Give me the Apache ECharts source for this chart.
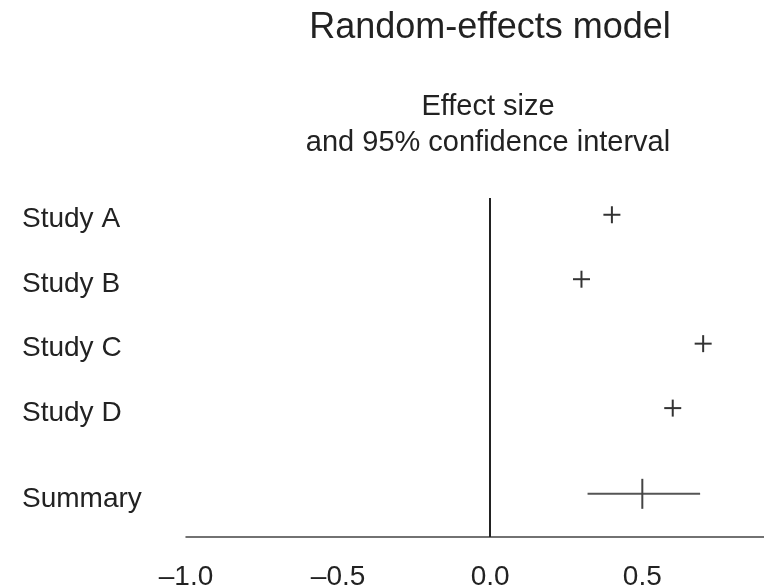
<!DOCTYPE html>
<html>
<head>
<meta charset="utf-8">
<script src="https://cdn.jsdelivr.net/npm/echarts@6/dist/echarts.min.js"></script>
<style>
  html, body { margin: 0; padding: 0; background: #fff; }
  #chart { width: 764px; height: 587px; }
</style>
</head>
<body>
<div id="chart"></div>
<script>
// Forest plot data: study names, row positions, point estimates and summary interval
const studies = ['Study A', 'Study B', 'Study C', 'Study D', 'Summary'];
const rowPos = [1, 2, 3, 4, 5.33];
const effects = [0.40, 0.30, 0.70, 0.60, 0.50];
const summaryLower = 0.32;
const summaryUpper = 0.69;
const xTicks = [-1.0, -0.5, 0.0, 0.5];

const FONT = '"Liberation Sans", Arial, Helvetica, sans-serif';
const INK = '#222';

const chart = echarts.init(document.getElementById('chart'));

function fmtTick(v) {
  const s = Math.abs(v).toFixed(1);
  return v < 0 ? '\u2013' + s : s;
}

const rows = studies.map((name, i) => {
  const isSummary = name === 'Summary';
  return [effects[i], rowPos[i], isSummary ? summaryLower : effects[i], isSummary ? summaryUpper : effects[i], isSummary ? 1 : 0];
});

chart.setOption({
  animation: false,
  backgroundColor: '#fff',
  title: [
    {
      text: 'Random-effects model',
      left: 485, top: 5, textAlign: 'center',
      textStyle: { fontFamily: FONT, fontSize: 36, fontWeight: 'normal', color: INK }
    },
    {
      text: 'Effect size\nand 95% confidence interval',
      left: 483, top: 84, textAlign: 'center',
      textStyle: { fontFamily: FONT, fontSize: 29, fontWeight: 'normal', color: INK, lineHeight: 36 }
    }
  ],
  grid: { left: 186, right: 0, top: 198, bottom: 50, outerBoundsMode: 'none' },
  xAxis: {
    type: 'value',
    min: -1, max: 0.9, interval: 0.5,
    axisLine: { show: true, lineStyle: { color: '#444', width: 1.5 } },
    axisTick: { show: false },
    splitLine: { show: false },
    axisLabel: {
      customValues: xTicks,
      formatter: fmtTick,
      fontFamily: FONT, fontSize: 28, color: INK, margin: 26
    }
  },
  yAxis: {
    type: 'value',
    inverse: true,
    min: 0.74, max: 6,
    axisLine: { show: false },
    axisTick: { show: false },
    splitLine: { show: false },
    axisLabel: {
      customValues: rowPos,
      formatter: v => studies[rowPos.indexOf(v)] || '',
      align: 'left',
      verticalAlign: 'top',
      lineHeight: 10,
      margin: 164,
      fontFamily: FONT, fontSize: 28, color: INK
    }
  },
  series: [
    {
      type: 'custom',
      data: rows,
      encode: { x: [0, 2, 3], y: 1 },
      markLine: {
        silent: true,
        symbol: 'none',
        label: { show: false },
        lineStyle: { color: '#222', width: 2, type: 'solid' },
        data: [{ xAxis: 0 }]
      },
      renderItem: (params, api) => {
        const c = api.coord([api.value(0), api.value(1)]);
        const lo = api.coord([api.value(2), api.value(1)]);
        const hi = api.coord([api.value(3), api.value(1)]);
        const style = { stroke: '#333', lineWidth: 2 };
        if (api.value(4) === 1) {
          return {
            type: 'group',
            children: [
              { type: 'line', shape: { x1: lo[0], y1: c[1], x2: hi[0], y2: c[1] }, style: { stroke: '#555', lineWidth: 2 } },
              { type: 'line', shape: { x1: c[0], y1: c[1] - 15, x2: c[0], y2: c[1] + 15 }, style: { stroke: '#444', lineWidth: 2 } }
            ]
          };
        }
        const h = 8.5;
        return {
          type: 'group',
          children: [
            { type: 'line', shape: { x1: c[0] - h, y1: c[1], x2: c[0] + h, y2: c[1] }, style },
            { type: 'line', shape: { x1: c[0], y1: c[1] - h, x2: c[0], y2: c[1] + h }, style }
          ]
        };
      }
    }
  ]
});
</script>
</body>
</html>
